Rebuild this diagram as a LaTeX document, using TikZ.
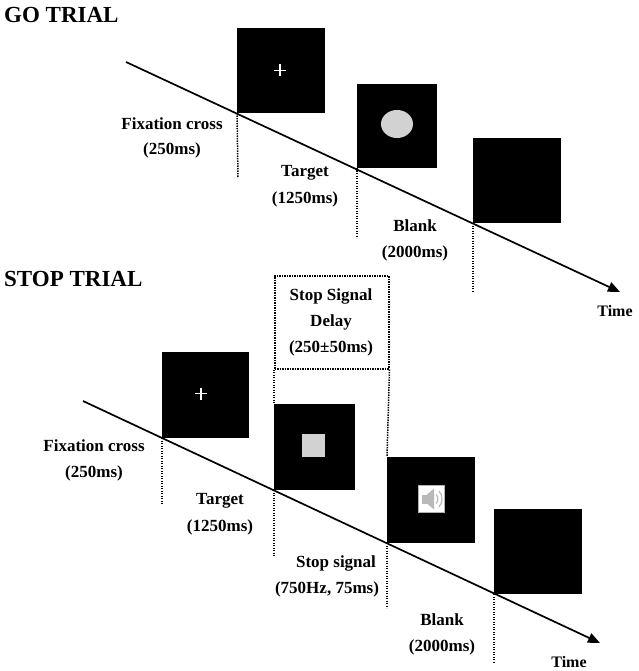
\documentclass[tikz,border=0pt]{standalone}
\usepackage{fontspec}
\setmainfont{Liberation Serif}
\usetikzlibrary{arrows.meta}
\begin{document}
\begin{tikzpicture}[x=1pt,y=-1pt,
  screen/.style={draw=none,fill=black,inner sep=0pt,anchor=south west},
  lbl/.style={font=\fontsize{17}{17}\selectfont\bfseries,inner sep=0pt,align=center},
  title/.style={font=\fontsize{23}{23}\selectfont\bfseries,inner sep=0pt,anchor=west},
  timeline/.style={line width=1.7pt,-{Triangle[length=12pt,width=10pt]}},
  tick/.style={line width=1.5pt,dash pattern=on 1.3pt off 1.2pt},
  crossmark/.style={draw=white,line width=1.4pt}]
\useasboundingbox (0,0) rectangle (638,671);

% ---------- GO TRIAL ----------
\node[title] (gotitle) at (4,15) {GO TRIAL};

\coordinate (gs) at (126,62);
\coordinate (ge) at (620,292);

\node[screen,minimum width=88pt,minimum height=85pt] (g1) at (237,113) {};
\node[screen,minimum width=80pt,minimum height=84pt] (g2) at (357,168) {};
\node[screen,minimum width=88pt,minimum height=85pt] (g3) at (473,223) {};

\draw[crossmark] (274,70.5) -- (286,70.5);
\draw[crossmark] (280,64.5) -- (280,76.5);
\fill[gray!35] (397,124) ellipse[x radius=16,y radius=14];

\draw[timeline] (gs) -- (ge);

\coordinate (gd1) at (238,178);
\coordinate (gd2) at (357,238);
\coordinate (gd3) at (473,292);
\draw[tick] (g1.south west) -- (gd1);
\draw[tick] (g2.south west) -- (gd2);
\draw[tick] (g3.south west) -- (gd3);

\node[lbl] (gl1a) at (172,124) {Fixation cross};
\node[lbl] (gl1b) at (172,150) {(250ms)};
\node[lbl] (gl2a) at (305,173) {Target};
\node[lbl] (gl2b) at (305,199) {(1250ms)};
\node[lbl] (gl3a) at (415,226) {Blank};
\node[lbl] (gl3b) at (415,253) {(2000ms)};
\node[lbl,font=\fontsize{16}{16}\selectfont\bfseries] (gtime) at (615,311) {Time};

% ---------- STOP TRIAL ----------
\node[title] (stoptitle) at (4,279) {STOP TRIAL};

\coordinate (ss) at (83,401);
\coordinate (se) at (600,643);

\node[screen,minimum width=87pt,minimum height=86pt] (s1) at (162,438) {};
\node[screen,minimum width=81pt,minimum height=86pt] (s2) at (274,490) {};
\node[screen,minimum width=88pt,minimum height=86pt] (s3) at (387,543) {};
\node[screen,minimum width=88pt,minimum height=85pt] (s4) at (494,594) {};

\draw[crossmark] (195,393.5) -- (207,393.5);
\draw[crossmark] (201,387.5) -- (201,399.5);
\fill[gray!35] (302,434) rectangle (325,457);

% speaker icon
\node[draw=gray!60,fill=white,line width=0.6pt,minimum width=26pt,minimum height=27pt,inner sep=0pt] (spk) at (431.5,499) {};
\fill[gray!55] (422,494.5) rectangle (427,503.5);
\fill[gray!55] (427,494.5) -- (434,488.5) -- (434,509.5) -- (427,503.5) -- cycle;
\draw[gray!55,line width=1.2pt] (436,494.5) .. controls (438.5,497) and (438.5,501) .. (436,503.5);
\draw[gray!55,line width=1.2pt] (439,491) .. controls (443,495) and (443,503) .. (439,507);

% stop signal delay box
\node[draw,tick,minimum width=114pt,minimum height=93pt,inner sep=0pt,anchor=north west] (ssd) at (274,275) {};
\draw[tick] (ssd.south west) -- (s2.north west);
\draw[tick] (ssd.south east) -- (s3.north west);
\node[lbl] (ssda) at (331,296) {Stop Signal};
\node[lbl] (ssdb) at (331,322) {Delay};
\node[lbl] (ssdc) at (331,348) {(250±50ms)};

\draw[timeline] (ss) -- (se);

\coordinate (sd1) at (162,504);
\coordinate (sd2) at (274,557);
\coordinate (sd3) at (387,608);
\coordinate (sd4) at (494,662);
\draw[tick] (s1.south west) -- (sd1);
\draw[tick] (s2.south west) -- (sd2);
\draw[tick] (s3.south west) -- (sd3);
\draw[tick] (s4.south west) -- (sd4);

\node[lbl] (sl1a) at (94,446) {Fixation cross};
\node[lbl] (sl1b) at (94,473) {(250ms)};
\node[lbl] (sl2a) at (220,501) {Target};
\node[lbl] (sl2b) at (220,527) {(1250ms)};
\node[lbl] (sl3a) at (336,563) {Stop signal};
\node[lbl] (sl3b) at (327,589) {(750Hz, 75ms)};
\node[lbl] (sl4a) at (442,620) {Blank};
\node[lbl] (sl4b) at (442,647) {(2000ms)};
\node[lbl,font=\fontsize{16}{16}\selectfont\bfseries] (stime) at (569,662) {Time};
\end{tikzpicture}
\end{document}
